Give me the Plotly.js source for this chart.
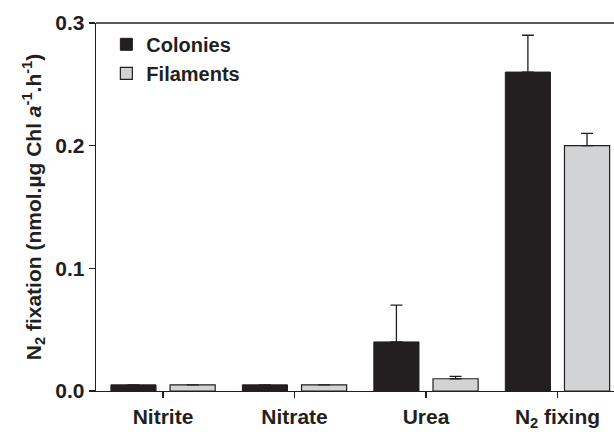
<!DOCTYPE html>
<html>
<head>
<meta charset="utf-8">
<script src="https://cdn.plot.ly/plotly-3.0.1.min.js"></script>
<style>html,body{margin:0;padding:0;background:#fff;}</style>
</head>
<body>
<div id="chart" style="width:614px;height:432px;"></div>
<script>
var categories = ["Nitrite", "Nitrate", "Urea", "N<sub>2</sub> fixing"];
var colonies = [0.005, 0.005, 0.04, 0.26];
var coloniesErr = [0, 0, 0.03, 0.03];
var filaments = [0.005, 0.005, 0.01, 0.2];
var filamentsErr = [0, 0, 0.002, 0.01];
var yTicks = [0, 0.1, 0.2, 0.3];

var dark = "#231f20";
var fontFam = "Liberation Sans, Arial, sans-serif";
var fs = 21;

var traces = [
  {
    type: "bar", name: "Colonies", x: categories, y: colonies,
    marker: {color: dark, line: {color: dark, width: 1}},
    error_y: {type: "data", array: coloniesErr, symmetric: false, arrayminus: [0,0,0,0], color: dark, thickness: 1.3, width: 6, visible: true}
  },
  {
    type: "bar", name: "Filaments", x: categories, y: filaments,
    marker: {color: "#d1d3d4", line: {color: dark, width: 1.2}},
    error_y: {type: "data", array: filamentsErr, symmetric: false, arrayminus: [0,0,0,0], color: dark, thickness: 1.3, width: 6, visible: true}
  }
];

var layout = {
  width: 614, height: 432,
  margin: {l: 96, r: 0, t: 23, b: 41},
  paper_bgcolor: "#fff", plot_bgcolor: "#fff",
  font: {family: fontFam, size: fs, color: dark, weight: "bold"},
  barmode: "group", bargap: 0.10, bargroupgap: 0.237,
  showlegend: true,
  legend: {x: 0.02, y: 0.995, xanchor: "left", yanchor: "top", bgcolor: "rgba(0,0,0,0)",
           font: {family: fontFam, size: 20, color: dark, weight: "bold"}, tracegroupgap: 0, itemwidth: 30},
  xaxis: {
    type: "category", range: [-0.51, 3.43],
    showline: true, linecolor: dark, linewidth: 1.3,
    ticks: "outside", ticklen: 6, tickcolor: dark, tickwidth: 1.3,
    showgrid: false, zeroline: false,
    tickfont: {family: fontFam, size: fs, color: dark, weight: "bold"}
  },
  yaxis: {
    range: [0, 0.3], tickvals: yTicks, tickformat: ".1f",
    showline: true, linecolor: dark, linewidth: 1.3,
    ticks: "outside", ticklen: 6, tickcolor: dark, tickwidth: 1.3,
    showgrid: false, zeroline: false,
    tickfont: {family: fontFam, size: fs, color: dark, weight: "bold"},
    title: {text: "N<sub>2</sub> fixation (nmol.µg Chl <i>a</i><sup>-1</sup>.h<sup>-1</sup>)", standoff: 8,
            font: {family: fontFam, size: fs, color: dark, weight: "bold"}}
  },
  shapes: [
    {type: "line", xref: "paper", yref: "paper", x0: 0, x1: 1, y0: 1, y1: 1, line: {color: dark, width: 1.3}}
  ]
};

Plotly.newPlot("chart", traces, layout, {displayModeBar: false, staticPlot: true});
</script>
</body>
</html>
